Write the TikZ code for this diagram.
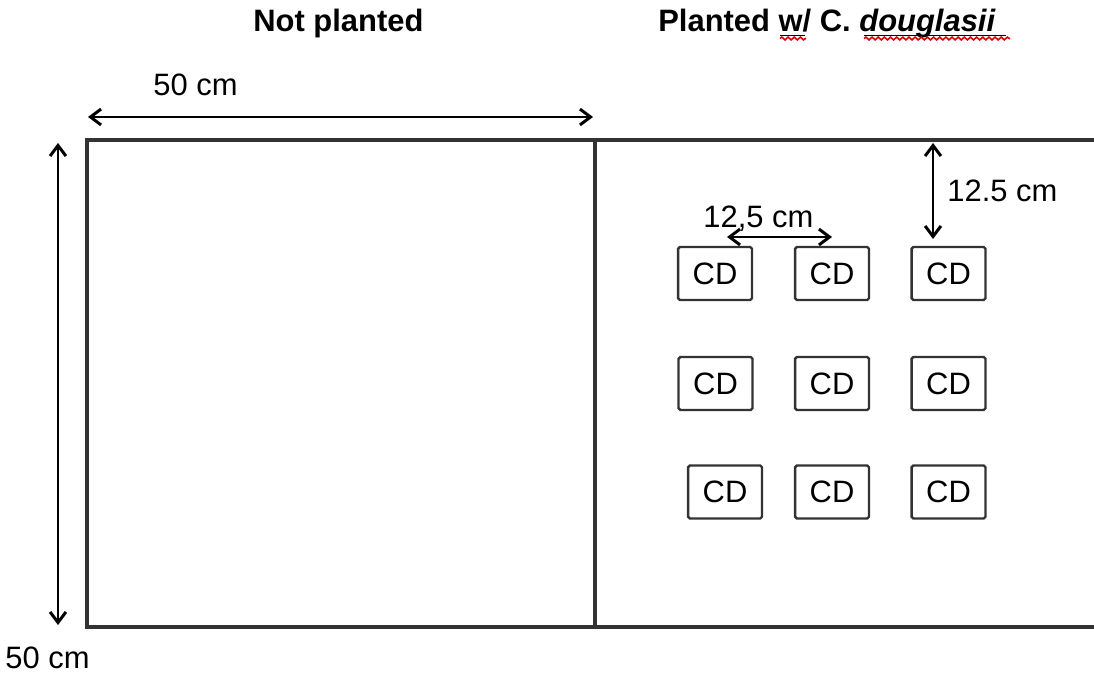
\documentclass[tikz,border=0pt]{standalone}
\usepackage{fontspec}
\setmainfont{Liberation Sans}
\usetikzlibrary{arrows.meta,decorations.pathmorphing}
\tikzset{
  plotline/.style={line width=2pt, draw=black!80},
  dimarrow/.style={line width=1.3pt, {Straight Barb[length=6pt,width=9pt,line width=1.7pt]}-{Straight Barb[length=6pt,width=9pt,line width=1.7pt]}},
  lbl/.style={font=\fontsize{17.6}{20}\selectfont, inner sep=0pt, anchor=base west},
  ttl/.style={font=\fontsize{17.6}{20}\selectfont\bfseries, inner sep=0pt, anchor=base west},
  cdbox/.style={draw=black!80, line width=1.4pt, rounded corners=1pt, minimum width=1.48cm, minimum height=1.06cm, inner sep=0pt, font=\fontsize{17.6}{20}\selectfont},
  squiggle/.style={draw=red!85!black, line width=0.9pt, decorate, decoration={snake, amplitude=0.8pt, segment length=3.5pt}}
}
\begin{document}
\begin{tikzpicture}[x=0.02cm,y=-0.02cm]
\useasboundingbox (0,0) rectangle (1094,675);
% titles
\node[ttl] (t1) at (253,32) {Not planted};
\node[ttl] (t2) at (658,32) {Planted w/ C. \textit{douglasii}};
\draw[line width=0.7pt] (780,35.5) -- (805,35.5);
\draw[squiggle] (780,38.5) -- (806,38.5);
\draw[line width=0.7pt] (864,35.5) -- (1006,35.5);
\draw[squiggle] (864,38.5) -- (1010,38.5);
% plot outline
\coordinate (tl) at (87,140);
\coordinate (bl) at (87,627);
\coordinate (tr) at (1094,140);
\coordinate (br) at (1094,627);
\coordinate (mt) at (595,140);
\coordinate (mb) at (595,627);
\draw[plotline] (tr) -- (tl) -- (bl) -- (br);
\draw[plotline] (mt) -- (mb);
% dimension arrows
\coordinate (ha1) at (88,117);
\coordinate (ha2) at (593,117);
\draw[dimarrow] (ha1) -- (ha2);
\node[lbl] (l50a) at (153,96) {50 cm};
\coordinate (va1) at (58,143);
\coordinate (va2) at (58,625);
\draw[dimarrow] (va1) -- (va2);
\node[lbl] (l50b) at (5,668) {50 cm};
% CD boxes
\node[cdbox] (c11) at (715,273.5) {CD};
\node[cdbox] (c12) at (832,273.5) {CD};
\node[cdbox] (c13) at (948.5,273.5) {CD};
\node[cdbox] (c21) at (715.5,383.5) {CD};
\node[cdbox] (c22) at (832,383.5) {CD};
\node[cdbox] (c23) at (948.5,383.5) {CD};
\node[cdbox] (c31) at (725,492) {CD};
\node[cdbox] (c32) at (832,492) {CD};
\node[cdbox] (c33) at (948.5,492) {CD};
% inner dimension arrows
\coordinate (vb1) at (933,143);
\coordinate (vb2) at (933,239);
\draw[dimarrow] (vb1) -- (vb2);
\node[lbl] (l125a) at (947,202) {12.5 cm};
\coordinate (hb1) at (727,237);
\coordinate (hb2) at (832,237);
\draw[dimarrow] (hb1) -- (hb2);
\node[lbl] (l125b) at (703,228) {12,5 cm};
\end{tikzpicture}
\end{document}
